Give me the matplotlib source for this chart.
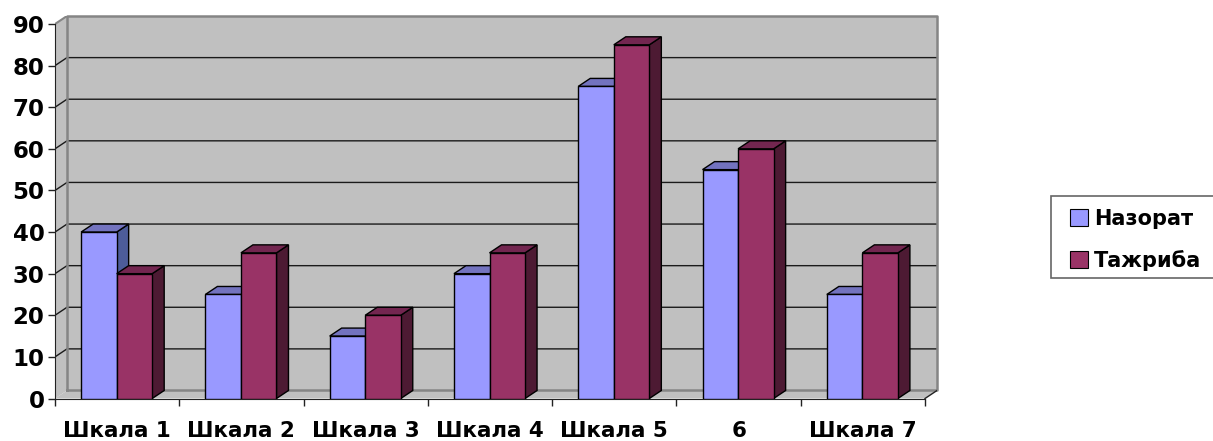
"""Column chart with a pseudo 3D look, Назорат vs Тажриба on seven scales"""

import matplotlib
matplotlib.use('Agg')
import matplotlib.pyplot as plt
import numpy as np
from matplotlib.patches import Patch, Rectangle

categories = ['Шкала 1', 'Шкала 2', 'Шкала 3', 'Шкала 4', 'Шкала 5', '6', 'Шкала 7']
nazorat = [40, 25, 15, 30, 75, 55, 25]
tajriba = [30, 35, 20, 35, 85, 60, 35]
y_ticks = list(range(0, 100, 10))
series_names = ['Назорат', 'Тажриба']

# front, top and side colours for every series
BLUE = ('#9999FF', '#7373BF', '#4D5C99')
PLUM = ('#993366', '#732650', '#4D1A33')
WALL = '#C0C0C0'
BORDER = '#858585'

W, H = 1213, 441
LEFT, RIGHT, TOP, BOTTOM = 55, 937, 16, 398.5

# depth of the fake 3D box, in data units
DEPTH_X = 12 / 124.3
DEPTH_Y = 8 / 4.16
BAR_W = 0.286
GAP = (1 - 2 * BAR_W) / 2 - 0.004

plt.rcParams['font.family'] = 'DejaVu Sans'
plt.rcParams['font.weight'] = 'bold'

fig = plt.figure(figsize=(W / 100, H / 100), dpi=100)
ax = fig.add_axes([LEFT / W, 1 - BOTTOM / H, (RIGHT - LEFT) / W, (BOTTOM - TOP) / H])

n = len(categories)
y_max = y_ticks[-1]
ax.set_xlim(0, n + DEPTH_X)
ax.set_ylim(0, y_max + DEPTH_Y)
ax.patch.set_visible(False)


def draw_box(x, value, colours):
    front, top, side = colours
    # side first, then top, front last
    ax.fill([x + BAR_W, x + BAR_W + DEPTH_X, x + BAR_W + DEPTH_X, x + BAR_W],
            [0, DEPTH_Y, value + DEPTH_Y, value],
            facecolor=side, edgecolor='black', linewidth=1, zorder=3)
    ax.fill([x, x + DEPTH_X, x + BAR_W + DEPTH_X, x + BAR_W],
            [value, value + DEPTH_Y, value + DEPTH_Y, value],
            facecolor=top, edgecolor='black', linewidth=1, zorder=3)
    ax.fill([x, x + BAR_W, x + BAR_W, x],
            [0, 0, value, value],
            facecolor=front, edgecolor='black', linewidth=1, zorder=3)


# Walls and floor
ax.fill([DEPTH_X, n + DEPTH_X, n + DEPTH_X, DEPTH_X],
        [DEPTH_Y, DEPTH_Y, y_max + DEPTH_Y, y_max + DEPTH_Y],
        facecolor=WALL, edgecolor='none', zorder=0)
ax.fill([0, DEPTH_X, DEPTH_X, 0],
        [0, DEPTH_Y, y_max + DEPTH_Y, y_max],
        facecolor=WALL, edgecolor='none', zorder=0)
ax.fill([0, n, n + DEPTH_X, DEPTH_X],
        [0, 0, DEPTH_Y, DEPTH_Y],
        facecolor=WALL, edgecolor='none', zorder=0)

# Gridlines along the side wall and the back wall
for v in y_ticks[1:-1]:
    ax.plot([0, DEPTH_X, n + DEPTH_X], [v, v + DEPTH_Y, v + DEPTH_Y],
            color='#1a1a1a', linewidth=1, zorder=1, solid_joinstyle='miter')

# Grey border of the back wall
ax.plot([DEPTH_X, DEPTH_X, n + DEPTH_X, n + DEPTH_X, DEPTH_X],
        [DEPTH_Y, y_max + DEPTH_Y, y_max + DEPTH_Y, DEPTH_Y, DEPTH_Y],
        color=BORDER, linewidth=1.8, zorder=2, clip_on=False)
ax.plot([0, DEPTH_X], [y_max, y_max + DEPTH_Y], color=BORDER, linewidth=1.5, zorder=2)
ax.plot([n, n + DEPTH_X], [0, DEPTH_Y], color='#222222', linewidth=1, zorder=2)

for i in range(n):
    draw_box(i + GAP, nazorat[i], BLUE)
    draw_box(i + GAP + BAR_W, tajriba[i], PLUM)

# Axes: real ticks and labels
for name in ('top', 'right'):
    ax.spines[name].set_visible(False)
ax.spines['left'].set_bounds(0, y_max)
ax.spines['bottom'].set_bounds(0, n)
ax.spines['left'].set_color('#222222')
ax.spines['bottom'].set_color('#222222')

ax.set_yticks(y_ticks)
ax.set_yticklabels([str(v) for v in y_ticks], fontsize=16.5, fontweight='bold')
ax.tick_params(axis='y', length=5, width=1, color='#222222', pad=2.5)

ax.set_xticks(np.arange(n + 1))
ax.set_xticklabels([])
ax.set_xticks(np.arange(n) + 0.5, minor=True)
ax.set_xticklabels(categories, minor=True, fontsize=15.4, fontweight='bold')
ax.tick_params(axis='x', which='major', length=5, width=1, color='#222222')
ax.tick_params(axis='x', which='minor', length=0, pad=16.5)

# Legend box is its own rectangle, the padding of the reference is not symmetric
fig.add_artist(Rectangle((1051 / W, 1 - 278 / H), 170 / W, 82 / H,
                         transform=fig.transFigure, facecolor='white',
                         edgecolor='#666666', linewidth=1.2))
handles = [Patch(facecolor=BLUE[0], edgecolor='black', linewidth=0.8),
           Patch(facecolor=PLUM[0], edgecolor='black', linewidth=0.8)]
leg = fig.legend(handles, series_names, loc='upper left',
                 bbox_to_anchor=(1070 / W, 1 - 209 / H),
                 prop={'size': 15, 'weight': 'bold'},
                 frameon=False,
                 handlelength=0.87, handleheight=0.87, handletextpad=0.3,
                 labelspacing=1.0, borderpad=0, borderaxespad=0)

fig.savefig('out.png', dpi=100)
